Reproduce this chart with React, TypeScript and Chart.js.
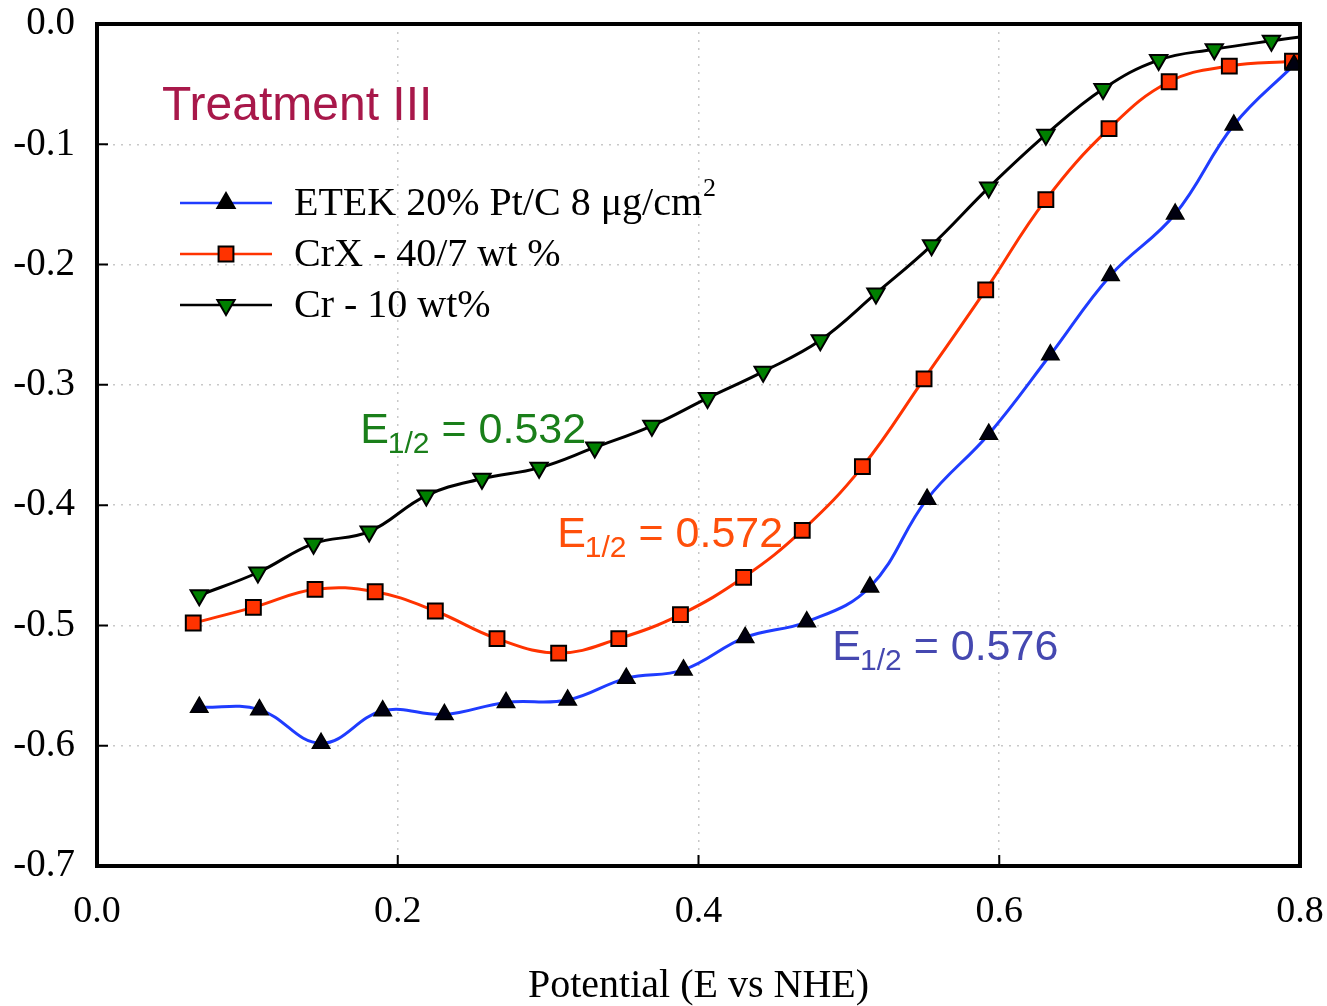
import React, { useEffect, useRef } from 'react';
import { Chart, registerables } from 'chart.js';

Chart.register(...registerables);

// ---- data ----
const etekX = [0.068, 0.108, 0.149, 0.190, 0.231, 0.272, 0.313, 0.352, 0.390, 0.431, 0.472, 0.514, 0.552, 0.593, 0.634, 0.674, 0.717, 0.756, 0.796];
const etekY = [-0.568, -0.570, -0.598, -0.571, -0.574, -0.564, -0.562, -0.544, -0.537, -0.510, -0.497, -0.468, -0.395, -0.341, -0.275, -0.209, -0.158, -0.084, -0.034];

const crxX = [0.064, 0.104, 0.145, 0.185, 0.225, 0.266, 0.307, 0.347, 0.388, 0.430, 0.469, 0.509, 0.550, 0.591, 0.631, 0.673, 0.713, 0.753, 0.795];
const crxY = [-0.498, -0.485, -0.470, -0.472, -0.488, -0.511, -0.523, -0.511, -0.491, -0.460, -0.421, -0.368, -0.295, -0.221, -0.146, -0.087, -0.048, -0.035, -0.031];

const crX = [0.068, 0.107, 0.144, 0.181, 0.219, 0.256, 0.294, 0.331, 0.369, 0.406, 0.443, 0.481, 0.518, 0.555, 0.593, 0.631, 0.669, 0.706, 0.743, 0.781, 0.818];
const crY = [-0.475, -0.456, -0.432, -0.422, -0.392, -0.378, -0.369, -0.352, -0.334, -0.311, -0.289, -0.263, -0.224, -0.184, -0.136, -0.092, -0.054, -0.030, -0.021, -0.014, -0.008];

const seriesNames = ['ETEK 20% Pt/C 8 \u03bcg/cm', 'CrX - 40/7 wt %', 'Cr - 10 wt%'];
const legendSuperscripts = ['2', '', ''];
const xTicks = [0, 0.2, 0.4, 0.6, 0.8];
const yTicks = [0, -0.1, -0.2, -0.3, -0.4, -0.5, -0.6, -0.7];
const xTitle = 'Potential (E vs NHE)';
const panelTitle = 'Treatment III';
const e12Values = ['0.532', '0.572', '0.576'];
const e12Colors = ['#1a7f1a', '#ff4f0a', '#4548b0'];
// label anchor positions in data coordinates (left edge, baseline)
const e12AnchorX = [0.175, 0.306, 0.489];
const e12AnchorY = [-0.3486, -0.435, -0.529];

const SERIF = '"Liberation Serif", "Times New Roman", serif';
const SANS = '"Liberation Sans", Arial, sans-serif';

const toPts = (xs: number[], ys: number[]) => xs.map((x, i) => ({ x, y: ys[i] }));

function drawMarker(ctx: CanvasRenderingContext2D, kind: string, x: number, y: number, r: number, fill: string) {
  ctx.save();
  ctx.beginPath();
  if (kind === 'up') {
    ctx.moveTo(x, y - r);
    ctx.lineTo(x + r * Math.sin((2 * Math.PI) / 3), y + r / 2);
    ctx.lineTo(x - r * Math.sin((2 * Math.PI) / 3), y + r / 2);
    ctx.closePath();
  } else if (kind === 'down') {
    ctx.moveTo(x, y + r);
    ctx.lineTo(x + r * Math.sin((2 * Math.PI) / 3), y - r / 2);
    ctx.lineTo(x - r * Math.sin((2 * Math.PI) / 3), y - r / 2);
    ctx.closePath();
  } else {
    const s = r * Math.SQRT1_2;
    ctx.rect(x - s, y - s, 2 * s, 2 * s);
  }
  ctx.fillStyle = fill;
  ctx.fill();
  ctx.lineWidth = 2;
  ctx.strokeStyle = '#000';
  ctx.stroke();
  ctx.restore();
}

const decorPlugin = {
  id: 'decor',
  afterDraw(chart: any) {
    const ctx: CanvasRenderingContext2D = chart.ctx;
    const { left, top, right, bottom } = chart.chartArea;
    const xs = chart.scales.x;
    const ys = chart.scales.y;
    ctx.save();

    // frame
    ctx.strokeStyle = '#000';
    ctx.lineWidth = 4;
    ctx.strokeRect(left, top, right - left, bottom - top);

    // inward ticks
    ctx.lineWidth = 2;
    ctx.beginPath();
    yTicks.forEach((v) => {
      const py = ys.getPixelForValue(v);
      ctx.moveTo(left, py);
      ctx.lineTo(left + 11, py);
    });
    xTicks.forEach((v) => {
      const px = xs.getPixelForValue(v);
      ctx.moveTo(px, bottom);
      ctx.lineTo(px, bottom - 11);
    });
    ctx.stroke();

    // panel title
    ctx.fillStyle = '#a8184a';
    ctx.font = `48px ${SANS}`;
    ctx.textBaseline = 'alphabetic';
    ctx.textAlign = 'left';
    ctx.fillText(panelTitle, left + 65, top + 96);

    // E1/2 labels
    e12Values.forEach((val, i) => {
      const px = xs.getPixelForValue(e12AnchorX[i]);
      const py = ys.getPixelForValue(e12AnchorY[i]);
      ctx.fillStyle = e12Colors[i];
      ctx.font = `43px ${SANS}`;
      ctx.fillText('E', px, py);
      let cx = px + ctx.measureText('E').width - 1;
      ctx.font = `30px ${SANS}`;
      ctx.fillText('1/2', cx, py + 10);
      cx += ctx.measureText('1/2').width;
      ctx.font = `43px ${SANS}`;
      ctx.fillText(' = ' + val, cx, py);
    });

    // legend
    const kinds = ['up', 'rect', 'down'];
    const lineColors = ['#1f3cff', '#ff3300', '#000000'];
    const fills = ['#000000', '#ff3300', '#008000'];
    const rowY = [203, 254, 305];
    seriesNames.forEach((name, i) => {
      const y = rowY[i];
      ctx.strokeStyle = lineColors[i];
      ctx.lineWidth = 2.5;
      ctx.beginPath();
      ctx.moveTo(180, y);
      ctx.lineTo(272, y);
      ctx.stroke();
      drawMarker(ctx, kinds[i], 226, y, kinds[i] === 'rect' ? 10.5 : 10, fills[i]);
      ctx.fillStyle = '#000';
      ctx.font = `40px ${SERIF}`;
      ctx.textBaseline = 'middle';
      ctx.fillText(name, 294, y + 1);
      if (legendSuperscripts[i]) {
        const w = ctx.measureText(name).width;
        ctx.font = `26px ${SERIF}`;
        ctx.fillText(legendSuperscripts[i], 294 + w + 1, y - 14);
      }
    });

    ctx.restore();
  },
};

const zeroPad = (s: any) => {
  s.paddingTop = 0;
  s.paddingBottom = 0;
  s.paddingLeft = 0;
  s.paddingRight = 0;
};

export default function App() {
  const ref = useRef<HTMLCanvasElement | null>(null);

  useEffect(() => {
    if (!ref.current) return;
    const chart = new Chart(ref.current, {
      type: 'line',
      data: {
        datasets: [
          {
            label: seriesNames[0],
            data: toPts(etekX, etekY),
            borderColor: '#1f3cff',
            borderWidth: 3,
            tension: 0.4,
            pointStyle: 'triangle',
            pointRadius: 10,
            pointBackgroundColor: '#000010',
            pointBorderColor: '#000',
            pointBorderWidth: 1.5,
          },
          {
            label: seriesNames[1],
            data: toPts(crxX, crxY),
            borderColor: '#ff3300',
            borderWidth: 3,
            tension: 0.4,
            pointStyle: 'rect',
            pointRadius: 10.5,
            pointBackgroundColor: '#ff3300',
            pointBorderColor: '#000',
            pointBorderWidth: 2,
          },
          {
            label: seriesNames[2],
            data: toPts(crX, crY),
            borderColor: '#000000',
            borderWidth: 3,
            tension: 0.4,
            pointStyle: 'triangle',
            rotation: 180,
            pointRotation: 180,
            pointRadius: 10,
            pointBackgroundColor: '#008000',
            pointBorderColor: '#000',
            pointBorderWidth: 2,
            clip: 0,
          } as any,
        ],
      },
      options: {
        animation: false,
        responsive: false,
        devicePixelRatio: 1,
        layout: { padding: { top: 24, right: 27, left: 0, bottom: 0 } },
        plugins: { legend: { display: false }, tooltip: { enabled: false } },
        scales: {
          x: {
            type: 'linear',
            min: 0,
            max: 0.8,
            afterBuildTicks: (s: any) => {
              s.ticks = xTicks.map((v) => ({ value: v }));
            },
            afterFit: (s: any) => {
              s.height = 140;
              zeroPad(s);
            },
            ticks: {
              font: { family: SERIF, size: 38 },
              color: '#000',
              padding: 23,
              maxRotation: 0,
              autoSkip: false,
              callback: (v: any) => Number(v).toFixed(1),
            },
            grid: { color: '#c8c8c8', lineWidth: 1.5, drawTicks: false },
            border: { display: false, dash: [2, 6] },
            title: {
              display: true,
              text: xTitle,
              color: '#000',
              font: { family: SERIF, size: 40, lineHeight: 1 },
              padding: 0,
            },
          },
          y: {
            type: 'linear',
            min: -0.7,
            max: 0,
            afterBuildTicks: (s: any) => {
              s.ticks = yTicks.map((v) => ({ value: v }));
            },
            afterFit: (s: any) => {
              s.width = 97;
              zeroPad(s);
            },
            ticks: {
              font: { family: SERIF, size: 39 },
              color: '#000',
              padding: 22,
              autoSkip: false,
              callback: (v: any) => Number(v).toFixed(1),
            },
            grid: { color: '#c8c8c8', lineWidth: 1.5, drawTicks: false },
            border: { display: false, dash: [2, 6] },
          },
        },
      },
      plugins: [decorPlugin],
    } as any);
    return () => chart.destroy();
  }, []);

  return (
    <div style={{ position: 'fixed', left: 0, top: 0, width: 1327, height: 1006, background: '#fff' }}>
      <canvas ref={ref} width={1327} height={1006} style={{ width: 1327, height: 1006, display: 'block' }} />
    </div>
  );
}
